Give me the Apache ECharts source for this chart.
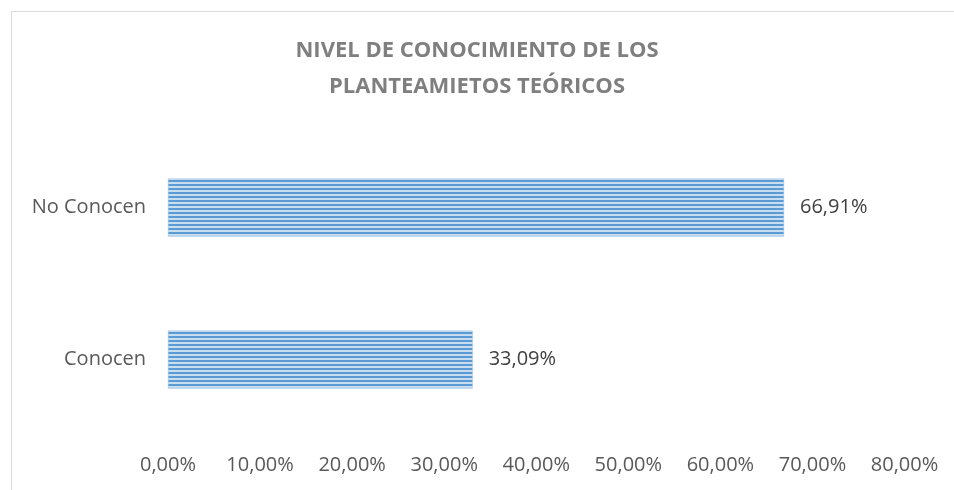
<!DOCTYPE html>
<html>
<head>
<meta charset="utf-8">
<script src="https://cdn.jsdelivr.net/npm/echarts@6/dist/echarts.min.js"></script>
<style>
  html, body { margin: 0; padding: 0; background: #fff; }
  #chart { width: 954px; height: 490px; }
</style>
</head>
<body>
<div id="chart"></div>
<script>
var categories = ['Conocen', 'No Conocen'];
var values = [33.09, 66.91];
var titleText = 'NIVEL DE CONOCIMIENTO DE LOS\nPLANTEAMIETOS TEÓRICOS';

// striped fill like the original bars
function stripes() {
    var c = document.createElement('canvas');
    c.width = 4;
    c.height = 4;
    var ctx = c.getContext('2d');
    ctx.fillStyle = '#c9ddf1';
    ctx.fillRect(0, 0, 4, 4);
    ctx.fillStyle = '#5b9bd5';
    ctx.fillRect(0, 0, 4, 2);
    return c;
}

function pct(v) {
    return v.toFixed(2).replace('.', ',') + '%';
}

var chart = echarts.init(document.getElementById('chart'));
chart.setOption({
    animation: false,
    backgroundColor: '#fff',
    textStyle: { fontFamily: 'Open Sans' },
    graphic: [{
        type: 'rect',
        left: 9,
        top: 9,
        shape: { width: 960, height: 500 },
        style: { fill: 'none', stroke: '#d9d9d9', lineWidth: 1 },
        silent: true
    }],
    title: {
        text: titleText,
        left: 'center',
        top: 28,
        textStyle: {
            fontFamily: 'Open Sans',
            fontSize: 22,
            fontWeight: 'bold',
            color: '#7f7f7f',
            lineHeight: 36
        }
    },
    grid: {
        left: 168,
        right: 49.5,
        top: 131.5,
        bottom: 54.5
    },
    xAxis: {
        type: 'value',
        min: 0,
        max: 80,
        interval: 10,
        axisLine: { show: false },
        axisTick: { show: false },
        splitLine: { show: false },
        axisLabel: {
            margin: 20,
            fontSize: 20,
            color: '#595959',
            formatter: function (v) { return pct(v); }
        }
    },
    yAxis: {
        type: 'category',
        data: categories,
        axisLine: { show: false },
        axisTick: { show: false },
        axisLabel: {
            margin: 22,
            fontSize: 20,
            color: '#595959'
        }
    },
    series: [{
        type: 'bar',
        data: values,
        barWidth: '38%',
        itemStyle: {
            color: { image: stripes(), repeat: 'repeat' },
            borderColor: '#8fb8e0',
            borderWidth: 0.5
        },
        label: {
            show: true,
            position: 'right',
            distance: 16,
            fontSize: 20,
            color: '#404040',
            formatter: function (p) { return pct(p.value); }
        }
    }]
});
</script>
</body>
</html>
